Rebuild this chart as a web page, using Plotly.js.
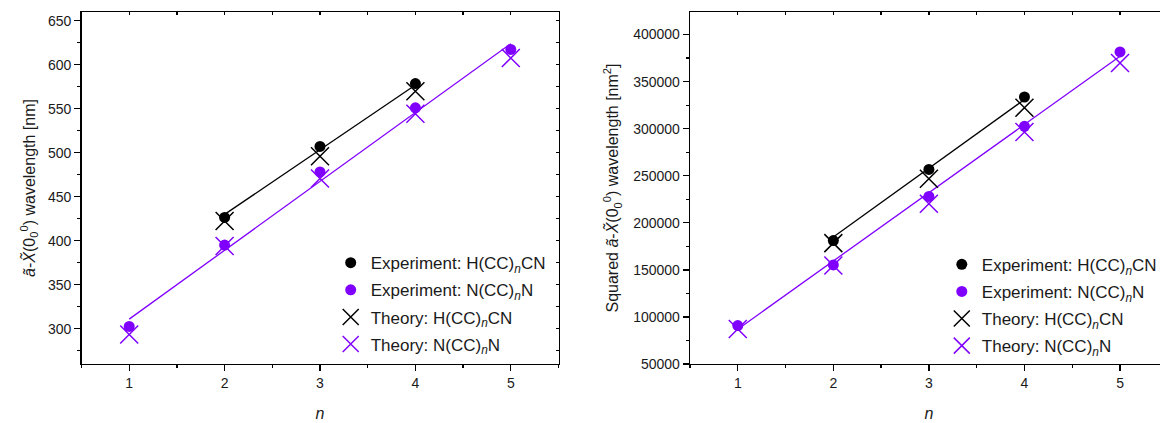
<!DOCTYPE html>
<html>
<head>
<meta charset="utf-8">
<script src="https://cdn.plot.ly/plotly-3.0.1.min.js"></script>
<style>
  html, body { margin: 0; padding: 0; overflow: hidden; background: #fff; }
  #plot { width: 1170px; height: 423px; }
</style>
</head>
<body>
<div id="plot"></div>
<script>
// ---------- data ----------
const nExpHCN = [2, 3, 4];
const expHCN = [426.5, 507.3, 578.7];
const theoHCN = [422.5, 496, 570];
const nExpNN = [1, 2, 3, 4, 5];
const expNN = [302.7, 395.2, 478.2, 551.1, 617.5];
const theoNN = [293.5, 394, 470.7, 544.3, 607.7];
const fitHCN_n = [2, 4];
const fitHCN = [430, 577];
const fitNN_n = [1, 5];
const fitNN = [311, 624];

const expHCN_sq = [181200, 256700, 333700];
const theoHCN_sq = [178400, 246800, 322300];
const expNN_sq = [90800, 155300, 228000, 302500, 381600];
const theoNN_sq = [87200, 154600, 220200, 296500, 369900];
const fitHCN_sq = [185000, 331000];
const fitNN_sq = [87000, 377000];

const legendNames = [
  'Experiment: H(CC)<sub><i>n</i></sub>CN',
  'Experiment: N(CC)<sub><i>n</i></sub>N',
  'Theory: H(CC)<sub><i>n</i></sub>CN',
  'Theory: N(CC)<sub><i>n</i></sub>N'
];
const xTickVals = [1, 2, 3, 4, 5];

// ---------- styling ----------
const BLACK = '#000000';
const PURPLE = '#8000ff';
const FONT = 'Liberation Sans, Arial, sans-serif';
const W = 1170, H = 423;
const leftDom = [81.5 / W, 558.5 / W];
const rightDom = [690 / W, 1167.8 / W];

function circle(c) { return { symbol: 'circle', size: 11, color: c, line: { width: 0 } }; }
function cross(c) { return { symbol: 'x-thin-open', size: 18, color: c, line: { color: c, width: 1.5 } }; }

const traces = [];
function addChart(xa, ya, leg, eH, tH, eN, tN, fH, fN) {
  traces.push({ x: fitHCN_n, y: fH, xaxis: xa, yaxis: ya, mode: 'lines', line: { color: BLACK, width: 1.3 }, showlegend: false, hoverinfo: 'skip' });
  traces.push({ x: fitNN_n, y: fN, xaxis: xa, yaxis: ya, mode: 'lines', line: { color: PURPLE, width: 1.3 }, showlegend: false, hoverinfo: 'skip' });
  traces.push({ x: nExpHCN, y: eH, xaxis: xa, yaxis: ya, mode: 'markers', marker: circle(BLACK), name: legendNames[0], legend: leg, legendgroup: leg + 'a' });
  traces.push({ x: nExpNN, y: eN, xaxis: xa, yaxis: ya, mode: 'markers', marker: circle(PURPLE), name: legendNames[1], legend: leg, legendgroup: leg + 'b' });
  traces.push({ x: nExpHCN, y: tH, xaxis: xa, yaxis: ya, mode: 'markers', marker: cross(BLACK), name: legendNames[2], legend: leg, legendgroup: leg + 'c' });
  traces.push({ x: nExpNN, y: tN, xaxis: xa, yaxis: ya, mode: 'markers', marker: cross(PURPLE), name: legendNames[3], legend: leg, legendgroup: leg + 'd' });
}
addChart('x', 'y', 'legend', expHCN, theoHCN, expNN, theoNN, fitHCN, fitNN);
addChart('x2', 'y2', 'legend2', expHCN_sq, theoHCN_sq, expNN_sq, theoNN_sq, fitHCN_sq, fitNN_sq);
// dummy traces so the inward mirror-tick axes get drawn
traces.push({ x: [null], y: [null], xaxis: 'x3', yaxis: 'y3', showlegend: false, hoverinfo: 'skip' });
traces.push({ x: [null], y: [null], xaxis: 'x4', yaxis: 'y4', showlegend: false, hoverinfo: 'skip' });

const tickFont = { family: FONT, size: 14, color: '#1a1a1a' };
const titleFont = { family: FONT, size: 16, color: '#1a1a1a' };

function xAxis(dom, anchor) {
  return {
    domain: dom, anchor: anchor, range: [0.5, 5.5], tickvals: xTickVals,
    ticks: 'outside', ticklen: 6, tickwidth: 1.3, tickcolor: BLACK,
    minor: { dtick: 0.5, tick0: 0.5, ticks: 'outside', ticklen: 3, tickwidth: 1.3, tickcolor: BLACK, showgrid: false },
    showline: true, mirror: true, linecolor: BLACK, linewidth: 1.3,
    showgrid: false, zeroline: false, tickfont: tickFont,
    title: { text: '<i>n</i>', font: titleFont, standoff: 17 }
  };
}
function yAxis(dom, anchor, range, dtick, minorDtick, title, standoff, fmt) {
  return {
    domain: dom, anchor: anchor, range: range, dtick: dtick, tick0: 0,
    ticks: 'outside', ticklen: 6, tickwidth: 1.3, tickcolor: BLACK,
    minor: { dtick: minorDtick, tick0: 0, ticks: 'outside', ticklen: 3, tickwidth: 1.3, tickcolor: BLACK, showgrid: false },
    showline: true, mirror: true, linecolor: BLACK, linewidth: 1.3,
    showgrid: false, zeroline: false, tickfont: tickFont, tickformat: fmt,
    title: { text: title, font: titleFont, standoff: standoff }
  };
}
function topAxis(over, anchor) {
  return {
    overlaying: over, anchor: anchor, side: 'top', range: [0.5, 5.5], dtick: 0.5, tick0: 0.5,
    ticks: 'inside', ticklen: 3, tickwidth: 1.3, tickcolor: BLACK, showticklabels: false,
    showline: false, showgrid: false, zeroline: false
  };
}
function rightAxis(over, anchor, range, dtick) {
  return {
    overlaying: over, anchor: anchor, side: 'right', range: range, dtick: dtick, tick0: 0,
    ticks: 'inside', ticklen: 3, tickwidth: 1.3, tickcolor: BLACK, showticklabels: false,
    showline: false, showgrid: false, zeroline: false
  };
}

const yTitle1 = '<i>a&#771;</i>-<i>X&#771;</i>(0<sub>0</sub><sup>0</sup>) wavelength [nm]';
const yTitle2 = 'Squared <i>a&#771;</i>-<i>X&#771;</i>(0<sub>0</sub><sup>0</sup>) wavelength [nm<sup>2</sup>]';

const legendBase = {
  xref: 'paper', yref: 'paper', xanchor: 'left', yanchor: 'top',
  bgcolor: 'rgba(0,0,0,0)', borderwidth: 0, tracegroupgap: 2, traceorder: 'grouped',
  font: { family: FONT, size: 17, color: '#1a1a1a' }
};

const layout = {
  width: W, height: H,
  margin: { l: 0, r: 0, t: 12, b: 58.5 },
  paper_bgcolor: '#ffffff', plot_bgcolor: '#ffffff',
  font: { family: FONT },
  xaxis: xAxis(leftDom, 'y'),
  yaxis: yAxis([0, 1], 'x', [260, 660], 50, 25, yTitle1, 8, ''),
  xaxis2: xAxis(rightDom, 'y2'),
  yaxis2: yAxis([0, 1], 'x2', [50000, 424000], 50000, 25000, yTitle2, 10, 'd'),
  xaxis3: topAxis('x', 'y'),
  yaxis3: rightAxis('y', 'x', [260, 660], 25),
  xaxis4: topAxis('x2', 'y2'),
  yaxis4: rightAxis('y2', 'x2', [50000, 424000], 25000),
  legend: Object.assign({}, legendBase, { x: 330.7 / W, y: 0.3376 }),
  legend2: Object.assign({}, legendBase, { x: 941.8 / W, y: 0.333 }),
  showlegend: true
};

Plotly.newPlot('plot', traces, layout, { displayModeBar: false, staticPlot: true });
</script>
</body>
</html>
